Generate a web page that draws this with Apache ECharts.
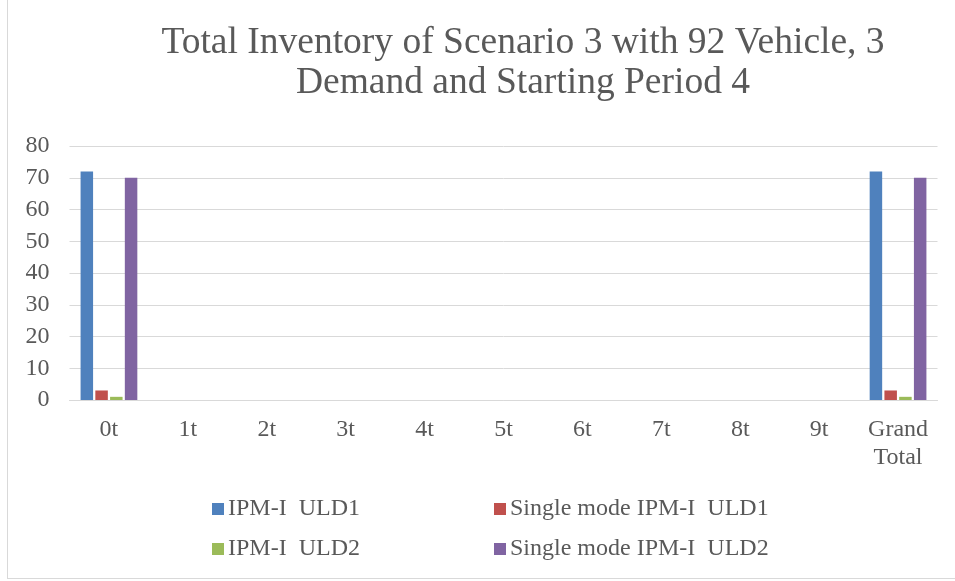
<!DOCTYPE html>
<html>
<head>
<meta charset="utf-8">
<style>
  html, body { margin: 0; padding: 0; background: #fff; }
  #frame { position: absolute; left: 7px; top: -2px; width: 960px; height: 581px; border: 1px solid #d9d9d9; box-sizing: border-box; }
  #chart { position: absolute; left: 0; top: 0; width: 955px; height: 581px; }
</style>
<script src="https://cdn.jsdelivr.net/npm/echarts@6/dist/echarts.min.js"></script>
</head>
<body>
<div id="frame"></div>
<div id="chart"></div>
<script>
// Inventory per period for each model / container type
const categories = ['0t', '1t', '2t', '3t', '4t', '5t', '6t', '7t', '8t', '9t', 'Grand\nTotal'];
const ipmUld1 = [72, null, null, null, null, null, null, null, null, null, 72];
const singleUld1 = [3, null, null, null, null, null, null, null, null, null, 3];
const ipmUld2 = [1, null, null, null, null, null, null, null, null, null, 1];
const singleUld2 = [70, null, null, null, null, null, null, null, null, null, 70];
const yTicks = { min: 0, max: 80, interval: 10 };

const seriesNames = ['IPM-I  ULD1', 'Single mode IPM-I  ULD1', 'IPM-I  ULD2', 'Single mode IPM-I  ULD2'];
const seriesData = [ipmUld1, singleUld1, ipmUld2, singleUld2];
const colors = ['#4f81bd', '#c0504d', '#9bbb59', '#8064a2'];

const font = 'Liberation Serif, "Times New Roman", serif';
const textColor = '#595959';

const legendPos = [
  { left: 212, top: 497 },
  { left: 494, top: 497 },
  { left: 212, top: 537 },
  { left: 494, top: 537 }
];

const chart = echarts.init(document.getElementById('chart'));
chart.setOption({
  animation: false,
  color: colors,
  title: {
    text: 'Total Inventory of Scenario 3 with 92 Vehicle, 3\nDemand and Starting Period 4',
    left: 518,
    textAlign: 'center',
    top: 18,
    textStyle: { fontFamily: font, fontSize: 37.5, fontWeight: 'normal', color: textColor, lineHeight: 40 }
  },
  legend: seriesNames.map((name, i) => ({
    data: [name],
    left: legendPos[i].left,
    top: legendPos[i].top,
    padding: 0,
    itemWidth: 12,
    itemHeight: 12,
    itemGap: 4,
    icon: 'rect',
    textStyle: { fontFamily: font, fontSize: 24, color: textColor, padding: [0, 0, 0, -1] }
  })),
  grid: { left: 69.5, right: 17.5, top: 146, bottom: 181 },
  xAxis: {
    type: 'category',
    data: categories,
    axisLine: { lineStyle: { color: '#d9d9d9' } },
    axisTick: { show: false },
    axisLabel: { fontFamily: font, fontSize: 24, color: textColor, margin: 16, lineHeight: 28 }
  },
  yAxis: {
    type: 'value',
    min: yTicks.min,
    max: yTicks.max,
    interval: yTicks.interval,
    axisLine: { show: false },
    axisTick: { show: false },
    splitLine: { lineStyle: { color: '#d9d9d9', width: 1 } },
    axisLabel: { fontFamily: font, fontSize: 24, color: textColor, margin: 20 }
  },
  series: seriesNames.map((name, i) => ({
    name: name,
    type: 'bar',
    data: seriesData[i],
    barWidth: 12.5,
    barGap: '18%',
    itemStyle: { color: colors[i] }
  }))
});
</script>
</body>
</html>
